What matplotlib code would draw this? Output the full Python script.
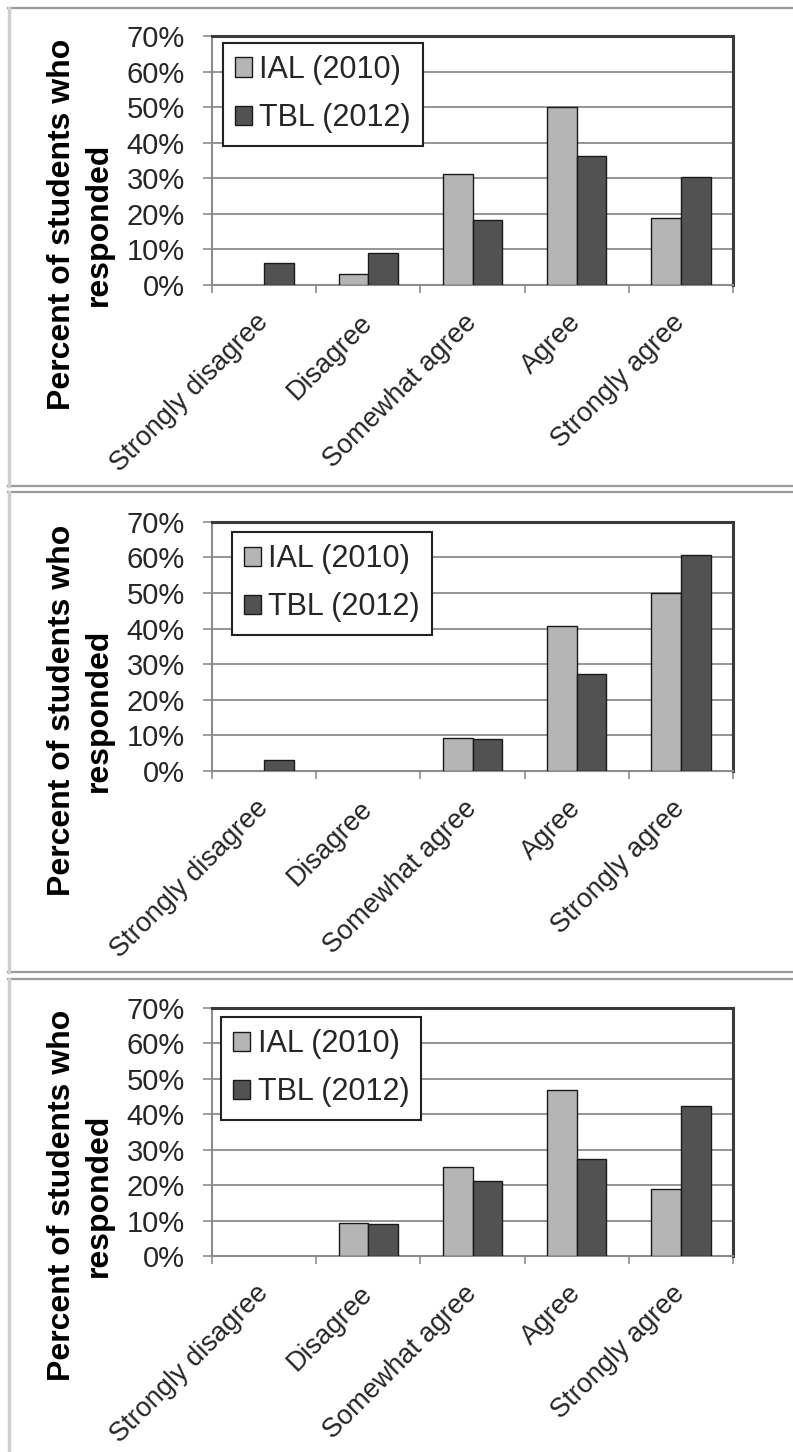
import numpy as np
import matplotlib.pyplot as plt
from matplotlib.lines import Line2D
from matplotlib.patches import Patch
from matplotlib.ticker import PercentFormatter

plt.rcParams['font.family'] = ['Liberation Sans', 'DejaVu Sans']

# categories and series
categories = ['Strongly disagree', 'Disagree', 'Somewhat agree', 'Agree', 'Strongly agree']
series_names = ['IAL (2010)', 'TBL (2012)']

# percent of students per panel
ial_1 = [0, 3.1, 31.3, 50.0, 18.8]
tbl_1 = [6.1, 9.1, 18.2, 36.4, 30.3]
ial_2 = [0, 0, 9.4, 40.6, 50.0]
tbl_2 = [3.0, 0, 9.1, 27.3, 60.6]
ial_3 = [0, 9.4, 25.0, 46.9, 18.8]
tbl_3 = [0, 9.1, 21.2, 27.3, 42.4]

yticks = [0, 10, 20, 30, 40, 50, 60, 70]

W, H = 793, 1452
fig = plt.figure(figsize=(W / 100, H / 100), dpi=100)

# panel layout in pixels: axes top, axes bottom, legend anchor, frame top, frame bottom
panels = [
    (ial_1, tbl_1, 36, 285, (0.0205, 0.973), 8, 486),
    (ial_2, tbl_2, 521.7, 771, (0.038, 0.959), 492, 972),
    (ial_3, tbl_3, 1007.7, 1256, (0.017, 0.963), 979, 1460),
]

c_ial = '#b5b5b5'
c_tbl = '#525252'
c_edge = '#1a1a1a'
c_grid = '#8c8c8c'
w = 1 / 3.5  # excel gap width 150%
x = np.arange(len(categories))


def hline(y, x0, x1, color, lw):
    fig.add_artist(Line2D([x0 / W, x1 / W], [1 - y / H, 1 - y / H],
                          transform=fig.transFigure, color=color, lw=lw))


def vline(xp, y0, y1, color, lw):
    fig.add_artist(Line2D([xp / W, xp / W], [1 - y0 / H, 1 - y1 / H],
                          transform=fig.transFigure, color=color, lw=lw))


for ial, tbl, top, bot, leg_xy, ftop, fbot in panels:
    # frame round each panel
    hline(ftop, 8, W + 5, '#9a9a9a', 1.6)
    if fbot < H:
        hline(fbot, 8, W + 5, '#9a9a9a', 1.6)
    vline(9, ftop, min(fbot, H + 5), '#cfcfcf', 2.5)

    ax = fig.add_axes([212 / W, 1 - bot / H, 521 / W, (bot - top) / H])
    lw_ial = [1 if v > 0 else 0 for v in ial]
    lw_tbl = [1 if v > 0 else 0 for v in tbl]
    ax.bar(x - w / 2, ial, width=w, color=c_ial, edgecolor=c_edge,
           linewidth=lw_ial, zorder=3)
    ax.bar(x + w / 2, tbl, width=w, color=c_tbl, edgecolor=c_edge,
           linewidth=lw_tbl, zorder=3)

    ax.set_xlim(-0.5, len(categories) - 0.5)
    ax.set_ylim(0, 70)
    ax.set_yticks(yticks)
    ax.yaxis.set_major_formatter(PercentFormatter(decimals=0))
    ax.yaxis.grid(True, color=c_grid, lw=1.3)
    ax.set_axisbelow(True)

    ax.set_xticks(x, categories, rotation=45, ha='right', va='center',
                  rotation_mode='anchor')
    ax.set_xticks(np.arange(-0.5, len(categories), 1), minor=True)
    ax.tick_params(axis='x', which='major', length=0, pad=24,
                   labelsize=19.5, labelcolor='#262626')
    ax.tick_params(axis='x', which='minor', length=6, width=1.2, color=c_grid)
    ax.tick_params(axis='y', length=6.5, pad=13, width=1.2, color=c_grid,
                   labelsize=21, labelcolor='#262626')

    for s in ['top', 'right']:
        ax.spines[s].set_color('#3a3a3a')
        ax.spines[s].set_linewidth(2.2)
    for s in ['left', 'bottom']:
        ax.spines[s].set_color(c_grid)
        ax.spines[s].set_linewidth(1.5)

    ax.text(-0.2524, 0.245, 'Percent of students who\nresponded', rotation=90,
            ha='center', va='center', multialignment='center',
            fontweight='bold', fontsize=23, linespacing=1.3,
            transform=ax.transAxes)

    handles = [Patch(facecolor=c_ial, edgecolor=c_edge, lw=1),
               Patch(facecolor=c_tbl, edgecolor=c_edge, lw=1)]
    leg = ax.legend(handles, series_names, loc='upper left', bbox_to_anchor=leg_xy,
                    borderaxespad=0, fontsize=22, handlelength=0.55,
                    handleheight=0.6, handletextpad=0.25, labelspacing=0.6,
                    borderpad=0.4, fancybox=False, framealpha=1)
    leg.get_frame().set_edgecolor('#222222')
    leg.get_frame().set_linewidth(1.5)
    for t in leg.get_texts():
        t.set_color('#262626')

fig.savefig('out.png', dpi=100)
